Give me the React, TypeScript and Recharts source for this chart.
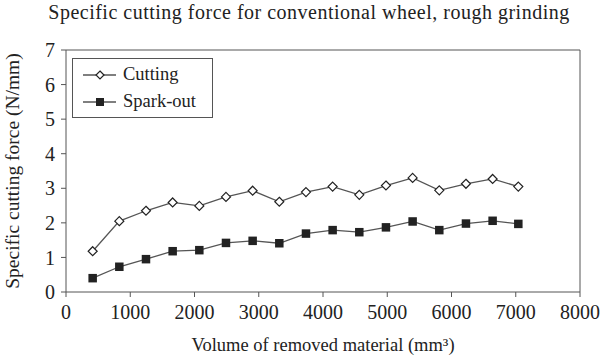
import { LineChart, Line, XAxis, YAxis, ReferenceLine, Label } from "recharts"

const volume = [415, 830, 1245, 1660, 2075, 2490, 2905, 3320, 3735, 4150, 4565, 4980, 5395, 5810, 6225, 6640, 7040]
const cutting = [1.18, 2.05, 2.35, 2.59, 2.49, 2.75, 2.93, 2.61, 2.89, 3.05, 2.81, 3.08, 3.3, 2.94, 3.13, 3.27, 3.05]
const sparkOut = [0.4, 0.73, 0.95, 1.18, 1.21, 1.42, 1.48, 1.41, 1.69, 1.79, 1.73, 1.87, 2.04, 1.79, 1.98, 2.06, 1.97]
const xTicks = [0, 1000, 2000, 3000, 4000, 5000, 6000, 7000, 8000]
const yTicks = [0, 1, 2, 3, 4, 5, 6, 7]

const FONT = "'Liberation Serif', 'Times New Roman', serif"
const LINE = "#555"
const INK = "#222"

const chartData = volume.map((v, i) => ({ volume: v, cutting: cutting[i], sparkOut: sparkOut[i] }))

// open diamond marker
const Diamond = (props: any) => {
  const { cx, cy, index } = props
  if (cx == null || cy == null) return <g key={index} />
  const r = 4.5
  return (
    <polygon
      key={index}
      points={`${cx},${cy - r} ${cx + r},${cy} ${cx},${cy + r} ${cx - r},${cy}`}
      fill="#fff"
      stroke={INK}
      strokeWidth={1.2}
    />
  )
}

// filled square marker
const Square = (props: any) => {
  const { cx, cy, index } = props
  if (cx == null || cy == null) return <g key={index} />
  const s = 8.5
  return <rect key={index} x={cx - s / 2} y={cy - s / 2} width={s} height={s} fill={INK} />
}

const LegendBox = () => (
  <div
    style={{
      position: "absolute",
      left: 72,
      top: 58,
      border: `1px solid ${LINE}`,
      width: 141,
      height: 60,
      boxSizing: "border-box",
      background: "#fff",
      fontFamily: FONT,
      fontSize: 18.5,
      color: INK,
      padding: "2px 0 0 10px",
      lineHeight: 1,
    }}
  >
    <div style={{ display: "flex", alignItems: "center", height: 27 }}>
      <svg width={33} height={12} style={{ marginRight: 7 }}>
        <line x1={0} y1={6} x2={33} y2={6} stroke={LINE} strokeWidth={1.3} />
        <polygon points="17,2 21,6 17,10 13,6" fill="#fff" stroke={INK} strokeWidth={1.2} />
      </svg>
      <span>Cutting</span>
    </div>
    <div style={{ display: "flex", alignItems: "center", height: 27 }}>
      <svg width={33} height={12} style={{ marginRight: 7 }}>
        <line x1={0} y1={6} x2={33} y2={6} stroke={LINE} strokeWidth={1.3} />
        <rect x={13} y={2} width={8} height={8} fill={INK} />
      </svg>
      <span>Spark-out</span>
    </div>
  </div>
)

export default function App() {
  return (
    <div style={{ position: "absolute", left: 0, top: 0, width: 605, height: 361, background: "#fff" }}>
      <style>{`.recharts-text, .recharts-label { font-family: ${FONT}; }`}</style>
      <LineChart
        width={605}
        height={361}
        data={chartData}
        margin={{ top: 50, right: 25, bottom: 39, left: 0 }}
        style={{ fontFamily: FONT }}
      >
        <XAxis
          dataKey="volume"
          type="number"
          domain={[0, 8000]}
          ticks={xTicks}
          interval={0}
          height={30}
          stroke={LINE}
          tickSize={5}
          tick={{ fontSize: 20, fill: INK, fontFamily: FONT }}
          tickMargin={8}
        >
          <Label
            value="Volume of removed material (mm³)"
            position="bottom"
            offset={16}
            style={{ fontSize: 18.5, fill: INK, fontFamily: FONT }}
          />
        </XAxis>
        <YAxis
          type="number"
          domain={[0, 7]}
          ticks={yTicks}
          interval={0}
          width={66}
          stroke={LINE}
          tickSize={5}
          tickMargin={6}
          tick={{ fontSize: 20, fill: INK, fontFamily: FONT }}
        >
          <Label
            value="Specific cutting force (N/mm)"
            angle={-90}
            position="insideLeft"
            offset={12}
            style={{ fontSize: 19.5, fill: INK, fontFamily: FONT, textAnchor: "middle" }}
          />
        </YAxis>
        <ReferenceLine y={7} stroke={LINE} strokeWidth={1} />
        <ReferenceLine x={8000} stroke={LINE} strokeWidth={1} />
        <Line
          dataKey="cutting"
          stroke={LINE}
          strokeWidth={1.3}
          dot={Diamond}
          activeDot={false}
          isAnimationActive={false}
        />
        <Line
          dataKey="sparkOut"
          stroke={LINE}
          strokeWidth={1.3}
          dot={Square}
          activeDot={false}
          isAnimationActive={false}
        />
      </LineChart>
      <div
        style={{
          position: "absolute",
          left: 0,
          top: 1,
          width: 618,
          textAlign: "center",
          fontFamily: FONT,
          fontSize: 20,
          letterSpacing: 0.5,
          color: INK,
        }}
      >
        Specific cutting force for conventional wheel, rough grinding
      </div>
      <LegendBox />
    </div>
  )
}
